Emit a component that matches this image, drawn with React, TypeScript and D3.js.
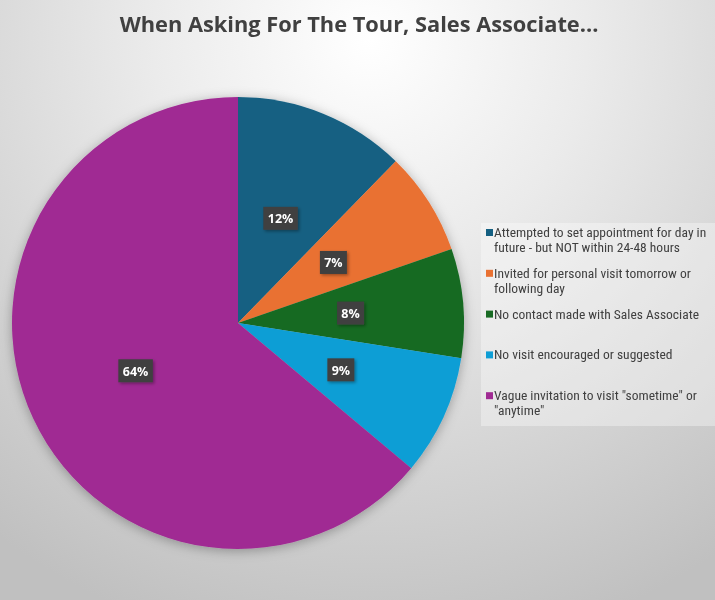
import { useMemo } from 'react'
import * as d3 from 'd3'

const title = 'When Asking For The Tour, Sales Associate...'

const categories = [
  'Attempted to set appointment for day in future - but NOT within 24-48 hours',
  'Invited for personal visit tomorrow or following day',
  'No contact made with Sales Associate',
  'No visit encouraged or suggested',
  'Vague invitation to visit "sometime" or "anytime"',
]

// legend lines as they wrap in the original
const legendLines = [
  ['Attempted to set appointment for day in', 'future - but NOT within 24-48 hours'],
  ['Invited for personal visit tomorrow or', 'following day'],
  ['No contact made with Sales Associate'],
  ['No visit encouraged or suggested'],
  ['Vague invitation to visit "sometime" or', '"anytime"'],
]

const shares = [12.3, 7.4, 7.8, 8.6, 63.9]

const colors = ['#156082', '#E97132', '#196B24', '#0F9ED5', '#A02B93']

const W = 715
const H = 600

export default function App() {
  const cx = 238
  const cy = 323
  const radius = 226

  const arcs = useMemo(() => {
    const pie = d3
      .pie<number>()
      .sort(null)
      .value((d) => d)
    return pie(shares)
  }, [])

  const arc = d3.arc<d3.PieArcDatum<number>>().innerRadius(0).outerRadius(radius)
  const total = d3.sum(shares)
  const fmt = (v: number) => `${Math.round((v / total) * 100)}%`

  const legendX = 481
  const legendY = 223
  const itemStep = 40.8
  const lineH = 15

  return (
    <div style={{ position: 'fixed', left: 0, top: 0, width: W, height: H }}>
      <svg width={W} height={H} style={{ display: 'block' }}>
        <defs>
          <radialGradient
            id="bg"
            gradientUnits="userSpaceOnUse"
            cx={370}
            cy={40}
            r={620}
          >
            <stop offset="0" stopColor="#ffffff" />
            <stop offset="0.35" stopColor="#ebebeb" />
            <stop offset="1" stopColor="#c0c0c0" />
          </radialGradient>
          <filter id="pieShadow" x="-20%" y="-20%" width="140%" height="140%">
            <feDropShadow dx="0" dy="2" stdDeviation="6" floodColor="#000" floodOpacity="0.3" />
          </filter>
          <filter id="boxShadow" x="-30%" y="-30%" width="160%" height="160%">
            <feDropShadow dx="1.5" dy="1.5" stdDeviation="1.5" floodColor="#000" floodOpacity="0.35" />
          </filter>
        </defs>

        <rect x={0} y={0} width={W} height={H} fill="url(#bg)" />

        <text
          x={359}
          y={32}
          textAnchor="middle"
          fontFamily="'Open Sans', 'Noto Sans', sans-serif"
          fontWeight="bold"
          fontSize={21.8}
          fill="#404040"
        >
          {title}
        </text>

        <g transform={`translate(${cx},${cy})`}>
          <g filter="url(#pieShadow)">
            {arcs.map((a, i) => (
              <path key={categories[i]} d={arc(a) || ''} fill={colors[i]} />
            ))}
          </g>
          {arcs.map((a, i) => {
            const [lx, ly] = arc.centroid(a)
            const label = fmt(a.data)
            const bw = label.length * 7.5 + 12
            const bh = 23
            return (
              <g key={`lab-${i}`} transform={`translate(${lx},${ly})`}>
                <rect
                  x={-bw / 2}
                  y={-bh / 2}
                  width={bw}
                  height={bh}
                  fill="#404040"
                  filter="url(#boxShadow)"
                />
                <text
                  x={0}
                  y={4.8}
                  textAnchor="middle"
                  fontFamily="'Open Sans', 'Noto Sans', sans-serif"
                  fontWeight="bold"
                  fontSize={12.5}
                  fill="#ffffff"
                >
                  {label}
                </text>
              </g>
            )
          })}
        </g>

        <g>
          <rect
            x={legendX}
            y={legendY}
            width={W - legendX}
            height={203}
            fill="#ffffff"
            fillOpacity={0.35}
          />
          {legendLines.map((lines, i) => {
            const y0 = legendY + 14 + i * itemStep
            return (
              <g key={categories[i]}>
                <rect x={legendX + 5} y={y0 - 8} width={7} height={7} fill={colors[i]} />
                <text
                  fontFamily="'Liberation Sans Narrow', 'Roboto Condensed', Roboto, sans-serif"
                  fontSize={13.5}
                  fill="#404040"
                >
                  {lines.map((ln, j) => (
                    <tspan key={j} x={legendX + 13} y={y0 + j * lineH}>
                      {ln}
                    </tspan>
                  ))}
                </text>
              </g>
            )
          })}
        </g>
      </svg>
    </div>
  )
}
